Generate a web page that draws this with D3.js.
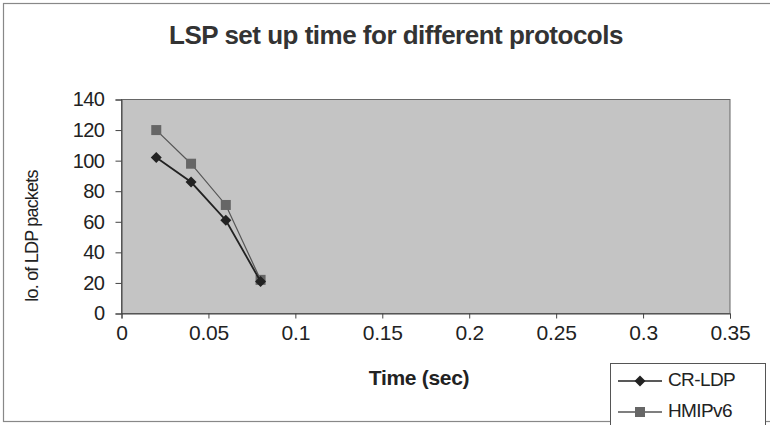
<!DOCTYPE html>
<html><head><meta charset="utf-8">
<script src="https://cdn.jsdelivr.net/npm/d3@7"></script>
<style>
html,body{margin:0;padding:0;background:#fff;}
svg{display:block;font-family:Arial,"Liberation Sans",sans-serif;}
</style></head>
<body><svg id="c" width="770" height="425"></svg>
<script>
const xValues = [0.02, 0.04, 0.06, 0.08];
const crldp = [102, 86, 61, 21];
const hmipv6 = [120, 98, 71, 22];
const seriesNames = ["CR-LDP", "HMIPv6"];
const xTicks = [0, 0.05, 0.1, 0.15, 0.2, 0.25, 0.3, 0.35];
const yTicks = [0, 20, 40, 60, 80, 100, 120, 140];

const svg = d3.select("#c");
const m = {l: 121.5, r: 730, t: 99.5, b: 313.5};

// outer border
svg.append("rect").attr("x", 3.5).attr("y", 3.5).attr("width", 780).attr("height", 418)
  .attr("fill", "#fff").attr("stroke", "#888").attr("stroke-width", 1.2);

svg.append("text").attr("x", 396).attr("y", 44).attr("text-anchor", "middle")
  .attr("font-size", 26).attr("font-weight", "bold").attr("letter-spacing", -0.5)
  .attr("fill", "#333").text("LSP set up time for different protocols");

const x = d3.scaleLinear().domain([0, 0.35]).range([m.l, m.r]);
const y = d3.scaleLinear().domain([0, 140]).range([m.b, m.t]);

svg.append("rect").attr("x", m.l).attr("y", m.t).attr("width", m.r - m.l).attr("height", m.b - m.t)
  .attr("fill", "#c4c4c4").attr("stroke", "#666").attr("stroke-width", 1);

const xa = svg.append("g").attr("transform", `translate(0,${m.b})`)
  .call(d3.axisBottom(x).tickValues(xTicks).tickFormat(d => String(d)).tickSizeOuter(0).tickSize(5).tickPadding(7));
const ya = svg.append("g").attr("transform", `translate(${m.l},0)`)
  .call(d3.axisLeft(y).tickValues(yTicks).tickSizeOuter(0).tickSize(6).tickPadding(11));
[xa, ya].forEach(a => {
  a.select(".domain").attr("stroke", "#444");
  a.selectAll(".tick line").attr("stroke", "#444");
  a.selectAll("text").attr("fill", "#222").attr("font-family", "Arial, 'Liberation Sans', sans-serif");
});
xa.selectAll("text").attr("font-size", 21).attr("letter-spacing", -0.2);
ya.selectAll("text").attr("font-size", 20).attr("letter-spacing", -0.5);

svg.append("text").attr("transform", "translate(38,236) rotate(-90)").attr("text-anchor", "middle")
  .attr("font-size", 18).attr("letter-spacing", -0.8).attr("fill", "#222").text("lo. of LDP packets");
svg.append("text").attr("x", 419).attr("y", 385).attr("text-anchor", "middle")
  .attr("font-size", 21).attr("font-weight", "bold").attr("letter-spacing", -0.3).attr("fill", "#222").text("Time (sec)");

const line = d3.line().x(d => x(d[0])).y(d => y(d[1]));
const series = [
  {name: seriesNames[0], vals: crldp, color: "#222", marker: "diamond", width: 1.8},
  {name: seriesNames[1], vals: hmipv6, color: "#555", marker: "square", width: 1.2}
];
function drawMarker(g, type, cx, cy, color) {
  if (type === "diamond") {
    g.append("path").attr("d", `M${cx},${cy-5.5}L${cx+5.5},${cy}L${cx},${cy+5.5}L${cx-5.5},${cy}Z`).attr("fill", color);
  } else {
    g.append("rect").attr("x", cx - 5).attr("y", cy - 5).attr("width", 10).attr("height", 10).attr("fill", color);
  }
}
[series[1], series[0]].forEach(s => {
  const pts = xValues.map((xv, i) => [xv, s.vals[i]]);
  svg.append("path").datum(pts).attr("d", line).attr("fill", "none").attr("stroke", s.color).attr("stroke-width", s.width);
  const g = svg.append("g");
  pts.forEach(p => drawMarker(g, s.marker, x(p[0]), y(p[1]), s.marker === "square" ? "#666" : s.color));
});

// legend
const lg = svg.append("g");
lg.append("rect").attr("x", 610.5).attr("y", 363.5).attr("width", 155).attr("height", 70)
  .attr("fill", "#fff").attr("stroke", "#555");
series.forEach((s, i) => {
  const ly = 381 + i * 31;
  lg.append("line").attr("x1", 618).attr("x2", 662).attr("y1", ly).attr("y2", ly).attr("stroke", s.color).attr("stroke-width", 1.3);
  drawMarker(lg, s.marker, 640, ly, s.marker === "square" ? "#666" : s.color);
  lg.append("text").attr("x", 668).attr("y", ly + 5).attr("font-size", 19).attr("letter-spacing", -0.6)
    .attr("fill", "#222").text(s.name);
});
</script></body></html>
